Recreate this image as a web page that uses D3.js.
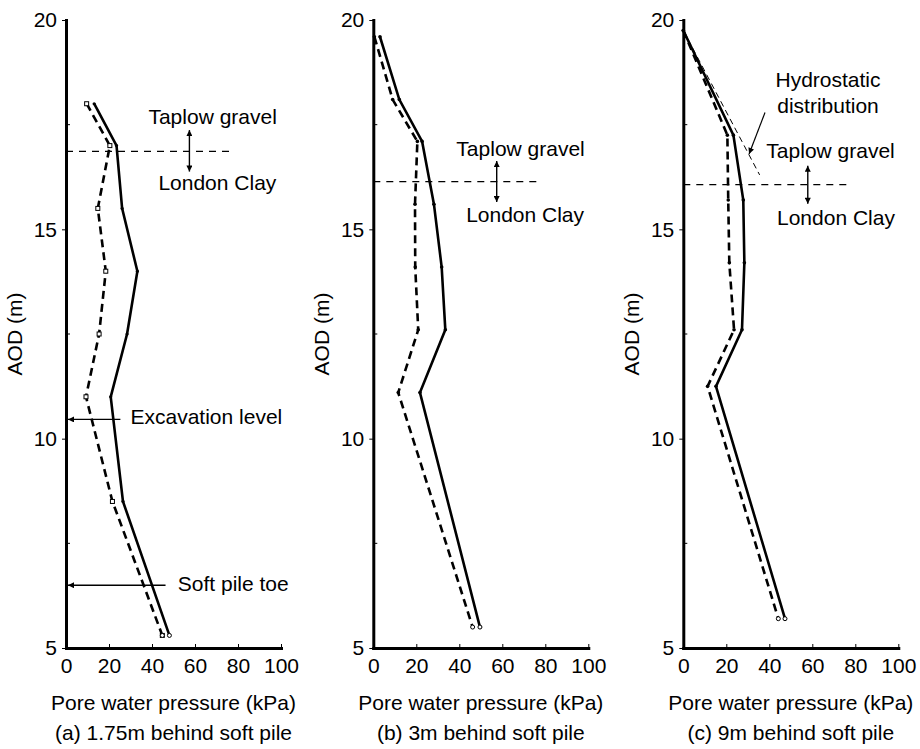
<!DOCTYPE html>
<html>
<head>
<meta charset="utf-8">
<script src="https://cdn.jsdelivr.net/npm/d3@7"></script>
<style>
  body { margin: 0; background: #fff; }
  text { font-family: "Liberation Sans", Arial, sans-serif; fill: #000; }
</style>
</head>
<body>
<script>
// values: AOD (m) and pore water pressure (kPa)
var aodA = [18.0, 17.0, 15.5, 14.0, 12.5, 11.0, 8.5, 5.3]
var solidA = [13.1, 23.5, 26.1, 33.2, 28.4, 20.8, 26.5, 48.1]
var dashedA = [9.6, 20.4, 14.8, 18.5, 15.4, 9.3, 21.6, 44.8]

var aodB = [19.6, 18.1, 17.1, 15.6, 14.1, 12.6, 11.1, 5.5]
var solidB = [3.1, 12.1, 22.7, 28.2, 31.8, 33.5, 21.7, 49.6]
var dashedB = [0.5, 9.0, 20.5, 19.4, 19.5, 20.9, 11.6, 46.2]

var aodC = [19.75, 17.25, 15.7, 14.2, 12.6, 11.25, 5.7]
var solidC = [0, 23.3, 27.9, 28.4, 27.3, 15.2, 47.3]
var dashedC = [0, 20.5, 20.9, 21.4, 23.6, 11.3, 44.2]

var hydroAod = [19.75, 16.3]
var hydroKpa = [0, 35.5]

var xTicks = [0, 20, 40, 60, 80, 100]
var yTicks = [5, 10, 15, 20]
var yMinor = [7.5, 12.5, 17.5]

var captions = ["(a) 1.75m behind soft pile", "(b) 3m behind soft pile", "(c) 9m behind soft pile"]
var boundary = [16.86, 16.14, 16.07]

var W = 920, H = 749
var FS = 21

var svg = d3.select("body").append("svg")
  .attr("width", W).attr("height", H)

var defs = svg.append("defs")
defs.append("marker")
  .attr("id", "head")
  .attr("viewBox", "0 0 10 10")
  .attr("refX", 10).attr("refY", 5)
  .attr("markerWidth", 9).attr("markerHeight", 6)
  .attr("markerUnits", "userSpaceOnUse")
  .attr("orient", "auto-start-reverse")
  .append("path").attr("d", "M0,0L10,5L0,10z").attr("fill", "#000")

var y = d3.scaleLinear().domain([5, 20]).range([648, 20])

var panels = [
  { x0: 66, aod: aodA, solid: solidA, dashed: dashedA, sq: true },
  { x0: 373.3, aod: aodB, solid: solidB, dashed: dashedB },
  { x0: 683.3, aod: aodC, solid: solidC, dashed: dashedC }
]

panels.forEach((p, i) => {
  var x = d3.scaleLinear().domain([0, 100]).range([p.x0, p.x0 + 215])
  var g = svg.append("g")

  // boundary Taplow gravel / London Clay
  g.append("line")
    .attr("x1", x(0)).attr("x2", x(78.3))
    .attr("y1", y(boundary[i])).attr("y2", y(boundary[i]))
    .attr("stroke", "#000").attr("stroke-width", 1.2)
    .attr("stroke-dasharray", "7,6")

  // axes
  var xa = g.append("g").attr("transform", "translate(0," + y(5) + ")")
    .call(d3.axisBottom(x).tickValues(xTicks).tickSize(-4).tickSizeOuter(0).tickPadding(10))
  var ya = g.append("g").attr("transform", "translate(" + x(0) + ",0)")
    .call(d3.axisLeft(y).tickValues(yTicks).tickSize(4).tickSizeOuter(0).tickPadding(5))
  ;[xa, ya].forEach(a => {
    a.select(".domain").attr("stroke-width", 3).attr("stroke-linecap", "square")
    a.selectAll(".tick line").attr("stroke-width", 1)
    a.selectAll("text").attr("font-size", FS).attr("font-family", "Liberation Sans, Arial, sans-serif")
  })
  g.selectAll(".minor").data(yMinor).enter().append("line")
    .attr("x1", x(0)).attr("x2", x(0) + 4)
    .attr("y1", d => y(d)).attr("y2", d => y(d))
    .attr("stroke", "#000")

  g.append("text")
    .attr("x", x(50)).attr("y", 710)
    .attr("text-anchor", "middle").attr("font-size", FS)
    .text("Pore water pressure (kPa)")
  g.append("text")
    .attr("transform", "translate(" + (x(0) - 44) + "," + y(12.5) + ") rotate(-90)")
    .attr("text-anchor", "middle").attr("font-size", FS)
    .text("AOD (m)")
  g.append("text")
    .attr("x", x(50)).attr("y", 740)
    .attr("text-anchor", "middle").attr("font-size", FS)
    .text(captions[i])

  // data
  var line = d3.line().x(d => x(d[0])).y(d => y(d[1]))
  var solidPts = p.solid.map((v, j) => [v, p.aod[j]])
  var dashPts = p.dashed.map((v, j) => [v, p.aod[j]])
  g.append("path").attr("d", line(dashPts))
    .attr("fill", "none").attr("stroke", "#000").attr("stroke-width", 2.6)
    .attr("stroke-dasharray", "8,5")
  g.append("path").attr("d", line(solidPts))
    .attr("fill", "none").attr("stroke", "#000").attr("stroke-width", 2.6)

  if (p.sq) {
    g.selectAll(".sq").data(dashPts).enter().append("rect")
      .attr("x", d => x(d[0]) - 2).attr("y", d => y(d[1]) - 2)
      .attr("width", 4).attr("height", 4)
      .attr("fill", "#fff").attr("stroke", "#000").attr("stroke-width", 1)
    g.selectAll(".dot").data(solidPts).enter().append("circle")
      .attr("cx", d => x(d[0])).attr("cy", d => y(d[1])).attr("r", 1.6)
  } else {
    g.selectAll(".dot").data(solidPts.concat(dashPts)).enter().append("circle")
      .attr("cx", d => x(d[0])).attr("cy", d => y(d[1])).attr("r", 1.8)
  }
  // open end points
  g.selectAll(".end").data([solidPts[solidPts.length - 1], dashPts[dashPts.length - 1]]).enter().append("circle")
    .attr("cx", d => x(d[0])).attr("cy", d => y(d[1])).attr("r", 2)
    .attr("fill", "#fff").attr("stroke", "#000").attr("stroke-width", 1)
  p.x = x
})

// annotations
function dblArrow(p, kpa, top, bot) {
  svg.append("line")
    .attr("x1", p.x(kpa)).attr("x2", p.x(kpa))
    .attr("y1", y(top)).attr("y2", y(bot))
    .attr("stroke", "#000").attr("stroke-width", 1.4)
    .attr("marker-start", "url(#head)").attr("marker-end", "url(#head)")
}
function label(p, kpa, aod, txt, anchor) {
  svg.append("text")
    .attr("x", p.x(kpa)).attr("y", y(aod))
    .attr("text-anchor", anchor || "middle").attr("font-size", FS)
    .text(txt)
}
function leftArrow(p, kpa, aod) {
  svg.append("line")
    .attr("x1", p.x(kpa)).attr("x2", p.x(0) + 2)
    .attr("y1", y(aod)).attr("y2", y(aod))
    .attr("stroke", "#000").attr("stroke-width", 1.4)
    .attr("marker-end", "url(#head)")
}

var pa = panels[0], pb = panels[1], pc = panels[2]
label(pa, 68.2, 17.52, "Taplow gravel")
label(pa, 70.4, 15.94, "London Clay")
dblArrow(pa, 57.4, 17.37, 16.38)
leftArrow(pa, 25.3, 10.46)
label(pa, 30, 10.35, "Excavation level", "start")
leftArrow(pa, 46.3, 6.5)
label(pa, 52, 6.35, "Soft pile toe", "start")

label(pb, 68.5, 16.75, "Taplow gravel")
label(pb, 70.6, 15.18, "London Clay")
dblArrow(pb, 57.4, 16.63, 15.65)

label(pc, 68.5, 16.7, "Taplow gravel")
label(pc, 71, 15.1, "London Clay")
dblArrow(pc, 57.9, 16.52, 15.61)
label(pc, 67.3, 18.4, "Hydrostatic")
label(pc, 67.3, 17.77, "distribution")

// hydrostatic distribution line
svg.append("path")
  .attr("d", d3.line().x(d => pc.x(d[0])).y(d => y(d[1]))(hydroKpa.map((v, j) => [v, hydroAod[j]])))
  .attr("fill", "none").attr("stroke", "#000").attr("stroke-width", 1)
  .attr("stroke-dasharray", "6,4")
svg.append("line")
  .attr("x1", pc.x(38)).attr("y1", y(17.79))
  .attr("x2", pc.x(30.6)).attr("y2", y(16.8))
  .attr("stroke", "#000").attr("stroke-width", 1.2)
  .attr("marker-end", "url(#head)")
</script>
</body>
</html>
